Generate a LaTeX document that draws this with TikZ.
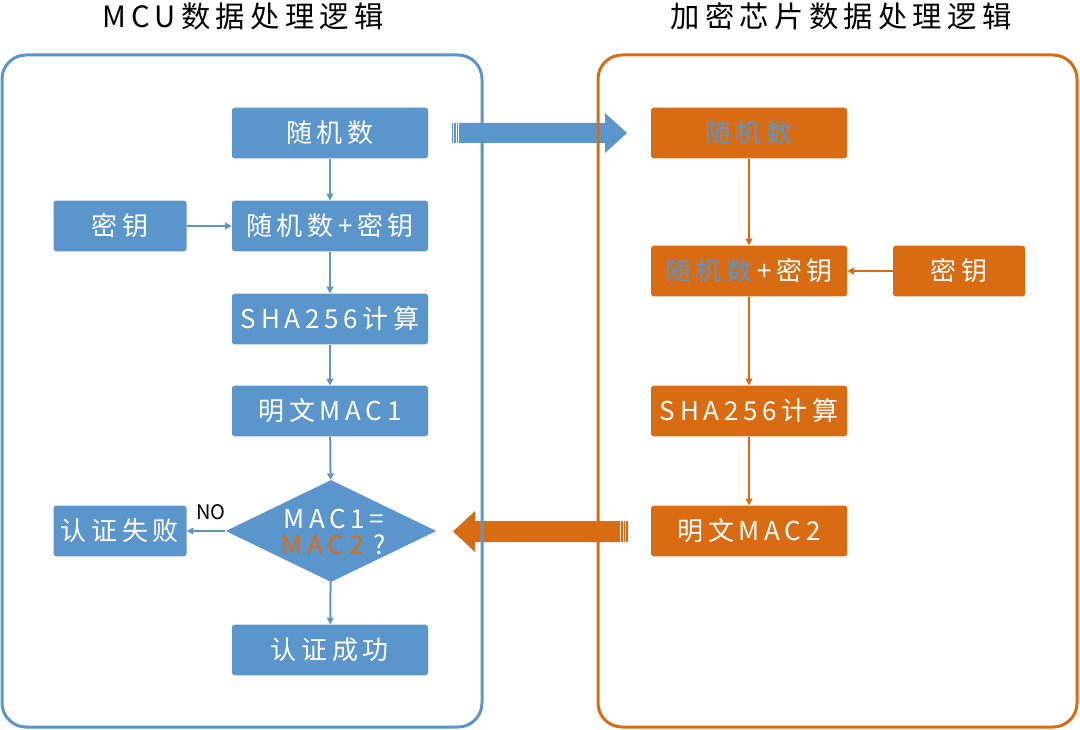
\documentclass[tikz,border=0pt]{standalone}
\usepackage{fontspec}
\setmainfont{Noto Sans CJK SC}
\newfontfamily\spfont[LetterSpace=18]{Noto Sans CJK SC}
\newfontfamily\titlefont[LetterSpace=18]{Noto Sans CJK SC}
\usetikzlibrary{arrows.meta,shapes.geometric}
\definecolor{mblue}{HTML}{5A96CB}
\definecolor{morange}{HTML}{D96B12}
\begin{document}
\begin{tikzpicture}[x=0.75pt,y=-0.75pt,
  bbox/.style={fill=mblue,rounded corners=2pt,minimum width=147pt,minimum height=38pt,inner sep=0pt,text=white,font=\spfont\fontsize{19.5}{21}\selectfont},
  obox/.style={bbox,fill=morange},
  conn/.style={draw=mblue,line width=1.5pt,-{Triangle[length=5pt,width=5pt]}},
  oconn/.style={conn,draw=morange},
  panel/.style={line width=2.25pt,rounded corners=18pt}
]
\useasboundingbox (0,0) rectangle (1080,730);
% titles
\node[font=\titlefont\fontsize{22}{24}\selectfont] (t1) at (243,16) {MCU数据处理逻辑};
\node[font=\titlefont\fontsize{22}{24}\selectfont] (t2) at (841,16) {加密芯片数据处理逻辑};
% big arrows
\fill[mblue] (459,123) -- (605,123) -- (605,113) -- (627,133) -- (605,153) -- (605,143) -- (459,143) -- cycle;
\fill[mblue] (451.7,123) rectangle (453.3,143);
\fill[mblue] (454.3,123) rectangle (456,143);
\fill[mblue] (456.8,123) rectangle (458.3,143);
\fill[morange] (620,521) -- (475,521) -- (475,511) -- (453,531.5) -- (475,552) -- (475,542) -- (620,542) -- cycle;
\fill[morange] (621,521) rectangle (622.5,542);
\fill[morange] (623.5,521) rectangle (625,542);
\fill[morange] (626,521) rectangle (627.5,542);
% panels
\draw[panel,mblue] (2,55) rectangle (482,727);
\draw[panel,morange] (598,55) rectangle (1077,727);
% left nodes
\node[bbox] (l1) at (330,133) {随机数};
\node[bbox,minimum width=99.75pt] (lk) at (120,226) {密钥};
\node[bbox] (l2) at (330,226) {随机数+密钥};
\node[bbox] (l3) at (330,319) {SHA256计算};
\node[bbox] (l4) at (330,411) {明文MAC1};
\node[diamond,fill=mblue,minimum width=158pt,minimum height=76.5pt,inner sep=0pt] (ld) at (331,531) {};
\node[font=\spfont\fontsize{19.5}{19.5}\selectfont,text=white,align=center] (ldt) at (334,532) {MAC1=\\\textcolor{morange}{MAC2} ?};
\node[bbox,minimum width=99.75pt] (lf) at (120,531) {认证失败};
\node[bbox] (ls) at (330,650) {认证成功};
\node[font=\fontsize{15}{17}\selectfont] (no) at (211,512) {NO};
\draw[conn] (l1) -- (l2);
\draw[conn] (lk) -- (l2);
\draw[conn] (l2) -- (l3);
\draw[conn] (l3) -- (l4);
\draw[conn] (l4) -- (ld);
\draw[conn] (ld) -- (lf);
\draw[conn] (ld) -- (ls);
% right nodes
\node[obox,text=mblue] (r1) at (749,133) {随机数};
\node[obox] (r2) at (749,271) {\textcolor{mblue}{随机数}\hspace{3.5pt}+密钥};
\node[obox,minimum width=99pt] (rk) at (959,271) {密钥};
\node[obox] (r3) at (749,411) {SHA256计算};
\node[obox] (r4) at (749,531) {明文MAC2};
\draw[oconn] (r1) -- (r2);
\draw[oconn] (rk) -- (r2);
\draw[oconn] (r2) -- (r3);
\draw[oconn] (r3) -- (r4);
\end{tikzpicture}
\end{document}
